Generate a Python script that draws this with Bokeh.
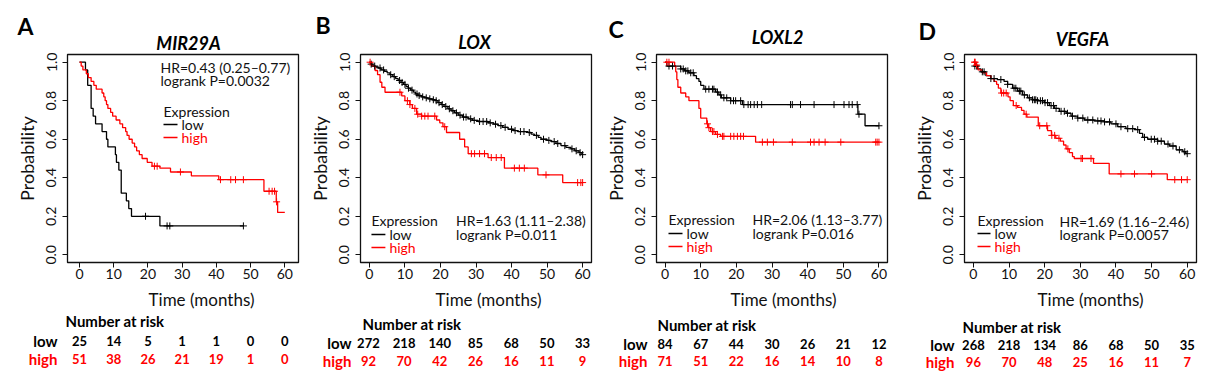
from bokeh.plotting import figure
from bokeh.layouts import row, column
from bokeh.models import Range1d, FixedTicker, PrintfTickFormatter
from bokeh.core.properties import value
from bokeh.embed import file_html
from bokeh.resources import INLINE

FONT = "Lato"
RED = "#ff0000"
BLACK = "#000000"
INK = "#111111"

# ---------------- data ----------------
letters = ["A", "B", "C", "D"]
genes = ["MIR29A", "LOX", "LOXL2", "VEGFA"]
hr_texts = ["HR=0.43 (0.25\u20130.77)", "HR=1.63 (1.11\u20132.38)",
            "HR=2.06 (1.13\u20133.77)", "HR=1.69 (1.16\u20132.46)"]
p_texts = ["logrank P=0.0032", "logrank P=0.011", "logrank P=0.016", "logrank P=0.0057"]
time_ticks = [0, 10, 20, 30, 40, 50, 60]
prob_ticks = [0.0, 0.2, 0.4, 0.6, 0.8, 1.0]
risk_times = [0, 10, 20, 30, 40, 50, 60]

# Panel A  (MIR29A)
a_low_t = [0, 1.75, 2.4, 3.4, 4.0, 4.7, 6.6, 7.9, 8.3, 10.5, 10.8, 11.5, 12.2, 13.7, 14.4, 15.2, 23.5, 47.9]
a_low_s = [1.0, 0.96, 0.88, 0.76, 0.72, 0.68, 0.64, 0.60, 0.56, 0.52, 0.48, 0.44, 0.32, 0.28, 0.24, 0.20, 0.15, 0.15]
a_low_c = [19.3, 25.6, 26.4, 47.9]
a_high_t = [0, 0.5, 1.0, 2.0, 2.6, 3.4, 4.2, 4.9, 6.6, 7.1, 7.5, 7.9, 8.3, 9.1, 9.7, 10.7, 11.8, 12.6,
            13.5, 13.9, 14.5, 15.4, 16.1, 16.7, 17.5, 18.3, 19.8, 21.2, 23.5, 26.6, 32.7, 40.7, 53.9,
            57.5, 57.9, 60.0]
a_high_s = [1.0, 0.98, 0.96, 0.94, 0.92, 0.90, 0.88, 0.86, 0.84, 0.82, 0.80, 0.78, 0.76, 0.74, 0.72,
            0.70, 0.68, 0.66, 0.64, 0.62, 0.60, 0.58, 0.56, 0.54, 0.52, 0.50, 0.48, 0.46, 0.45, 0.43,
            0.41, 0.39, 0.33, 0.275, 0.22, 0.22]
a_high_c = [21.9, 22.7, 29.5, 41.2, 44.2, 45.6, 47.9, 55.4, 56.3, 57.0, 57.6]
a_risk_low = [25, 14, 5, 1, 1, 0, 0]
a_risk_high = [51, 38, 26, 21, 19, 1, 0]

# Panel B  (LOX)
b_low_t = [0, 0.3, 1.0, 1.8, 2.5, 3.3, 4.2, 5.0, 5.8, 6.6, 7.4, 8.1, 8.9, 9.6, 10.3, 10.9, 11.6, 12.4,
           13.0, 13.7, 14.6, 15.5, 16.5, 17.6, 18.5, 19.3, 20.2, 21.0, 22.1, 23.0, 24.0, 25.0, 26.2,
           27.8, 29.0, 30.6, 33.4, 35.0, 36.2, 37.5, 39.0, 40.5, 41.8, 44.6, 45.5, 46.4, 47.5, 48.3,
           50.0, 51.1, 52.5, 53.9, 55.3, 56.7, 57.8, 59.0, 59.8, 60.0]
b_low_s = [1.0, 0.99, 0.98, 0.975, 0.97, 0.96, 0.953, 0.945, 0.935, 0.925, 0.915, 0.905, 0.895, 0.885,
           0.875, 0.865, 0.855, 0.845, 0.835, 0.827, 0.82, 0.815, 0.81, 0.805, 0.80, 0.79, 0.78, 0.77,
           0.758, 0.748, 0.737, 0.725, 0.715, 0.706, 0.698, 0.692, 0.685, 0.678, 0.671, 0.662, 0.652,
           0.645, 0.64, 0.635, 0.627, 0.62, 0.61, 0.60, 0.594, 0.588, 0.578, 0.567, 0.558, 0.55, 0.54,
           0.53, 0.52, 0.52]
b_low_c = [0.5, 1.5, 3.0, 4.0, 6.0, 7.0, 8.5, 9.2, 10.0, 11.0, 12.0, 13.4, 14.0, 15.0, 16.0, 17.0,
           18.0, 18.8, 19.6, 20.5, 21.5, 22.5, 23.5, 24.5, 25.5, 26.5, 27.2, 28.5, 29.5, 31.0, 32.0,
           33.0, 34.0, 35.5, 37.0, 38.2, 40.0, 41.0, 42.5, 43.5, 45.0, 47.0, 49.0, 50.5, 52.0, 53.0,
           55.0, 57.0, 58.2, 59.3, 60.0]
b_high_t = [0, 0.65, 1.6, 2.3, 3.0, 3.5, 4.4, 9.1, 10.0, 11.4, 12.1, 13.3, 14.7, 18.9, 19.8, 20.7,
            21.7, 25.4, 26.8, 27.8, 33.4, 38.0, 47.4, 54.4, 60.0]
b_high_s = [1.0, 0.98, 0.957, 0.935, 0.896, 0.87, 0.844, 0.825, 0.80, 0.78, 0.76, 0.73, 0.72, 0.70,
            0.685, 0.665, 0.635, 0.60, 0.56, 0.525, 0.505, 0.45, 0.415, 0.375, 0.375]
b_high_c = [0.2, 8.6, 10.7, 11.4, 12.8, 13.6, 14.7, 15.6, 16.5, 18.4, 21.2, 28.7, 29.6, 31.0, 32.4,
            34.3, 35.7, 37.1, 40.8, 42.2, 43.6, 49.7, 58.6, 59.5, 60.0]
b_risk_low = [272, 218, 140, 85, 68, 50, 33]
b_risk_high = [92, 70, 42, 26, 16, 11, 9]

# Panel C  (LOXL2)
c_low_t = [0, 0.5, 4.4, 5.5, 6.7, 8.1, 8.8, 9.5, 10.0, 10.9, 14.2, 15.1, 15.8, 18.4, 21.7, 54.1, 56.1, 60.0]
c_low_s = [1.0, 0.98, 0.965, 0.955, 0.945, 0.93, 0.915, 0.90, 0.88, 0.86, 0.845, 0.83, 0.815, 0.80,
           0.78, 0.73, 0.67, 0.67]
c_low_c = [1.1, 2.1, 4.4, 5.1, 5.8, 6.4, 7.2, 7.9, 11.4, 12.3, 13.3, 13.7, 14.7, 15.6, 16.5, 17.3,
           18.4, 19.2, 19.8, 21.2, 22.1, 23.3, 24.0, 25.0, 25.9, 27.1, 35.2, 35.7, 38.0, 41.8, 47.4,
           50.2, 51.6, 52.5, 53.9, 54.4, 60.0]
c_high_t = [0, 2.7, 3.0, 3.3, 3.6, 4.4, 5.8, 6.7, 9.5, 10.0, 11.7, 12.1, 12.8, 14.2, 15.6, 25.4, 60.0]
c_high_s = [1.0, 0.98, 0.95, 0.91, 0.87, 0.84, 0.82, 0.80, 0.76, 0.71, 0.68, 0.66, 0.64, 0.625,
            0.615, 0.585, 0.585]
c_high_c = [0.5, 1.1, 11.9, 12.3, 13.3, 13.7, 14.7, 16.1, 16.5, 18.4, 19.3, 20.3, 21.2, 22.0, 27.3,
            28.7, 30.4, 35.7, 40.8, 41.8, 43.2, 44.9, 49.3, 59.1, 59.5, 60.0]
c_risk_low = [84, 67, 44, 30, 26, 21, 12]
c_risk_high = [71, 51, 22, 16, 14, 10, 8]

# Panel D  (VEGFA)
d_low_t = [0, 0.4, 1.1, 2.1, 3.5, 4.9, 6.7, 8.6, 9.6, 11.0, 12.4, 13.8, 15.2, 16.6, 18.0, 19.9, 21.3,
           22.7, 24.1, 26.0, 27.4, 29.2, 31.1, 33.9, 36.7, 38.6, 40.5, 42.8, 45.2, 46.6, 47.5, 48.9,
           51.7, 53.6, 55.0, 56.9, 58.8, 59.6, 60.0]
d_low_s = [1.0, 0.98, 0.965, 0.95, 0.93, 0.915, 0.91, 0.90, 0.885, 0.865, 0.85, 0.83, 0.815, 0.805,
           0.80, 0.79, 0.775, 0.76, 0.745, 0.735, 0.72, 0.71, 0.70, 0.695, 0.69, 0.68, 0.665, 0.655,
           0.65, 0.63, 0.61, 0.60, 0.59, 0.575, 0.565, 0.545, 0.535, 0.525, 0.525]
d_low_c = [0.4, 0.9, 2.5, 3.0, 4.9, 5.8, 7.7, 9.6, 11.4, 11.9, 12.9, 13.3, 14.3, 15.7, 16.6, 17.1,
           17.5, 18.0, 18.8, 19.4, 20.1, 20.8, 21.8, 22.5, 23.2, 24.6, 25.5, 26.4, 27.8, 29.3, 30.7,
           32.1, 33.5, 34.9, 35.8, 36.8, 38.2, 40.0, 41.4, 43.3, 44.7, 46.1, 48.0, 49.9, 50.8, 51.7,
           52.7, 54.6, 56.0, 57.8, 59.3, 60.0]
d_high_t = [0, 0.6, 1.3, 2.5, 3.7, 4.9, 5.8, 6.5, 7.0, 7.7, 9.7, 10.3, 11.2, 12.4, 13.5, 14.2, 15.0,
            18.2, 20.8, 21.9, 23.1, 24.4, 25.3, 26.0, 26.9, 27.8, 28.3, 33.7, 38.1, 54.4, 60.0]
d_high_s = [1.0, 0.985, 0.96, 0.945, 0.93, 0.915, 0.90, 0.885, 0.865, 0.84, 0.82, 0.80, 0.775, 0.765,
            0.75, 0.73, 0.715, 0.67, 0.645, 0.62, 0.605, 0.59, 0.57, 0.55, 0.53, 0.51, 0.50, 0.475,
            0.42, 0.39, 0.39]
d_high_c = [0.3, 0.5, 0.9, 7.9, 8.5, 9.2, 12.0, 14.8, 18.6, 20.6, 22.0, 22.8, 24.0, 26.5, 30.2, 30.6,
            33.0, 41.4, 45.2, 50.0, 56.5, 58.4, 60.0]
d_risk_low = [268, 218, 134, 86, 68, 50, 35]
d_risk_high = [96, 70, 48, 25, 16, 11, 7]

curves = [
    (a_low_t, a_low_s, a_low_c, a_high_t, a_high_s, a_high_c, a_risk_low, a_risk_high),
    (b_low_t, b_low_s, b_low_c, b_high_t, b_high_s, b_high_c, b_risk_low, b_risk_high),
    (c_low_t, c_low_s, c_low_c, c_high_t, c_high_s, c_high_c, c_risk_low, c_risk_high),
    (d_low_t, d_low_s, d_low_c, d_high_t, d_high_s, d_high_c, d_risk_low, d_risk_high),
]

# ---------------- layout (page pixel positions) ----------------
STRIP_H = 52               # strip with panel letter + gene title: y 0..52
PLOT_TOP = 52              # plot figure: y 52..286
FT, FB = 54, 262           # frame top / bottom
PLOT_BOT = 286
TABLE_BOT = 372            # table figure: y 286..372
Y0, Y1 = -0.04, 1.04
LAYOUT = [
    dict(cx=(0, 305), fl=67, fr=298, xr=(-3.5, 64.0),
         letter=(17, 25), title=(188, 42), time=(201, 299),
         hr=(160, 67), pv=(160, 80), expr=(163, 111), seg=(163, 177), legx=181, lowy=124, highy=137,
         nar=(65, 320), rowr=57, rlow=340, rhigh=358),
    dict(cx=(305, 600), fl=359, fr=591, xr=(-2.5, 62.5),
         letter=(315, 24), title=(474, 41), time=(488, 299),
         hr=(455, 220), pv=(455, 234), expr=(370, 220), seg=(370, 384), legx=388, lowy=234, highy=247,
         nar=(362, 323), rowr=351, rlow=342, rhigh=360),
    dict(cx=(600, 905), fl=656, fr=887, xr=(-2.4, 62.4),
         letter=(608, 28), title=(777, 36), time=(783, 299),
         hr=(752, 219), pv=(752, 233), expr=(668, 219), seg=(668, 682), legx=686, lowy=233, highy=246,
         nar=(657, 324), rowr=647, rlow=343, rhigh=360),
    dict(cx=(905, 1205), fl=964, fr=1196, xr=(-2.5, 62.6),
         letter=(918, 30), title=(1082, 38), time=(1090, 299),
         hr=(1059, 221), pv=(1059, 234), expr=(977, 220), seg=(977, 990), legx=994, lowy=233, highy=246,
         nar=(962, 326), rowr=954, rlow=344, rhigh=361),
]


def surv_at(ts, ss, t):
    v = ss[0]
    for a, b in zip(ts, ss):
        if a <= t:
            v = b
        else:
            break
    return v


def bare(width, height, xr, yr):
    f = figure(width=width, height=height, x_range=xr, y_range=yr, output_backend="svg",
               toolbar_location=None, title_location=None, x_axis_location=None,
               y_axis_location=None, min_border=0, frame_align=False)
    f.outline_line_color = None
    f.xgrid.visible = False
    f.ygrid.visible = False
    f.background_fill_color = "white"
    f.border_fill_color = "white"
    return f


def build(i):
    L = LAYOUT[i]
    lt, ls, lc, ht, hs, hc, rl, rh = curves[i]
    x0, x1 = L["xr"]
    fl, fr = L["fl"], L["fr"]
    cx0, cx1 = L["cx"]
    W = cx1 - cx0

    def dx(px):
        return x0 + (px - fl) * (x1 - x0) / (fr - fl)

    def dy(py):
        return Y1 - (py - FT) * (Y1 - Y0) / (FB - FT)

    # ---- top strip: panel letter and gene title ----
    s = bare(W, STRIP_H, Range1d(dx(cx0), dx(cx1)), Range1d(STRIP_H, 0))
    s.text(x=[dx(L["letter"][0])], y=[L["letter"][1]], text=[letters[i]], text_font=value(FONT),
           text_font_size="23px", text_font_style="bold", text_color="black",
           text_align="left", text_baseline="middle")
    s.text(x=[dx(L["title"][0])], y=[L["title"][1]], text=[genes[i]], text_font=value(FONT),
           text_font_size="18px", text_font_style="bold italic", text_color="black",
           text_align="center", text_baseline="middle")

    # ---- main KM plot ----
    p = figure(width=W, height=PLOT_BOT - PLOT_TOP, x_range=Range1d(x0, x1), y_range=Range1d(Y0, Y1),
               output_backend="svg", toolbar_location=None, title_location=None, frame_align=False,
               min_border_left=fl - cx0, min_border_right=cx1 - fr,
               min_border_top=FT - PLOT_TOP, min_border_bottom=PLOT_BOT - FB)
    p.background_fill_color = "white"
    p.border_fill_color = "white"
    p.outline_line_color = INK
    p.outline_line_width = 1.3
    p.xgrid.visible = False
    p.ygrid.visible = False
    p.xaxis.ticker = FixedTicker(ticks=time_ticks)
    p.yaxis.ticker = FixedTicker(ticks=prob_ticks)
    p.yaxis.formatter = PrintfTickFormatter(format="%.1f")
    for ax in (p.xaxis[0], p.yaxis[0]):
        ax.major_tick_in = 0
        ax.major_tick_out = 5
        ax.minor_tick_line_color = None
        ax.axis_line_color = INK
        ax.major_tick_line_color = INK
        ax.major_label_text_font = FONT
        ax.major_label_text_font_size = "14px"
        ax.major_label_text_color = INK
    p.yaxis.major_label_orientation = "vertical"
    p.xaxis.major_label_standoff = 1
    p.yaxis.major_label_standoff = 6
    p.yaxis.axis_label = "Probability"
    p.yaxis.axis_label_text_font = FONT
    p.yaxis.axis_label_text_font_size = "18px"
    p.yaxis.axis_label_text_font_style = "normal"
    p.yaxis.axis_label_text_color = INK
    p.yaxis.axis_label_standoff = 6

    p.step(lt, ls, mode="after", line_color=BLACK, line_width=1.3)
    p.step(ht, hs, mode="after", line_color=RED, line_width=1.3)
    p.scatter(lc, [surv_at(lt, ls, t) for t in lc], marker="cross", size=7,
              line_color=BLACK, line_width=1)
    p.scatter(hc, [surv_at(ht, hs, t) for t in hc], marker="cross", size=7,
              line_color=RED, line_width=1)

    p.text(x=[dx(L["hr"][0]), dx(L["pv"][0]), dx(L["expr"][0])],
           y=[dy(L["hr"][1]), dy(L["pv"][1]), dy(L["expr"][1])],
           text=[hr_texts[i], p_texts[i], "Expression"],
           text_font=value(FONT), text_font_size="14px", text_color=INK,
           text_align="left", text_baseline="middle")
    p.text(x=[dx(L["legx"])], y=[dy(L["lowy"])], text=["low"], text_font=value(FONT),
           text_font_size="14px", text_color=INK, text_align="left", text_baseline="middle")
    p.text(x=[dx(L["legx"])], y=[dy(L["highy"])], text=["high"], text_font=value(FONT),
           text_font_size="14px", text_color=RED, text_align="left", text_baseline="middle")
    s0, s1 = L["seg"]
    p.segment(x0=[dx(s0)], y0=[dy(L["lowy"])], x1=[dx(s1)], y1=[dy(L["lowy"])],
              line_color=BLACK, line_width=1.3)
    p.segment(x0=[dx(s0)], y0=[dy(L["highy"])], x1=[dx(s1)], y1=[dy(L["highy"])],
              line_color=RED, line_width=1.3)

    # ---- bottom: x title and number-at-risk table ----
    t = bare(W, TABLE_BOT - PLOT_BOT, Range1d(dx(cx0), dx(cx1)), Range1d(TABLE_BOT, PLOT_BOT))
    t.text(x=[dx(L["time"][0])], y=[L["time"][1]], text=["Time (months)"], text_font=value(FONT),
           text_font_size="17px", text_color=INK, text_align="center", text_baseline="middle")
    t.text(x=[dx(L["nar"][0])], y=[L["nar"][1]], text=["Number at risk"], text_font=value(FONT),
           text_font_size="15px", text_font_style="bold", text_color="black",
           text_align="left", text_baseline="middle")
    t.text(x=[dx(L["rowr"])], y=[L["rlow"]], text=["low"], text_font=value(FONT),
           text_font_size="15px", text_font_style="bold", text_color="black",
           text_align="right", text_baseline="middle")
    t.text(x=[dx(L["rowr"])], y=[L["rhigh"]], text=["high"], text_font=value(FONT),
           text_font_size="15px", text_font_style="bold", text_color=RED,
           text_align="right", text_baseline="middle")
    t.text(x=risk_times, y=[L["rlow"]] * len(risk_times), text=[str(v) for v in rl],
           text_font=value(FONT), text_font_size="13px", text_font_style="bold",
           text_color="black", text_align="center", text_baseline="middle")
    t.text(x=risk_times, y=[L["rhigh"]] * len(risk_times), text=[str(v) for v in rh],
           text_font=value(FONT), text_font_size="13px", text_font_style="bold",
           text_color=RED, text_align="center", text_baseline="middle")

    return column(s, p, t, spacing=0)


layout = row(*[build(i) for i in range(4)], spacing=0)
open("out.html", "w").write(file_html(layout, INLINE, "Kaplan-Meier"))
